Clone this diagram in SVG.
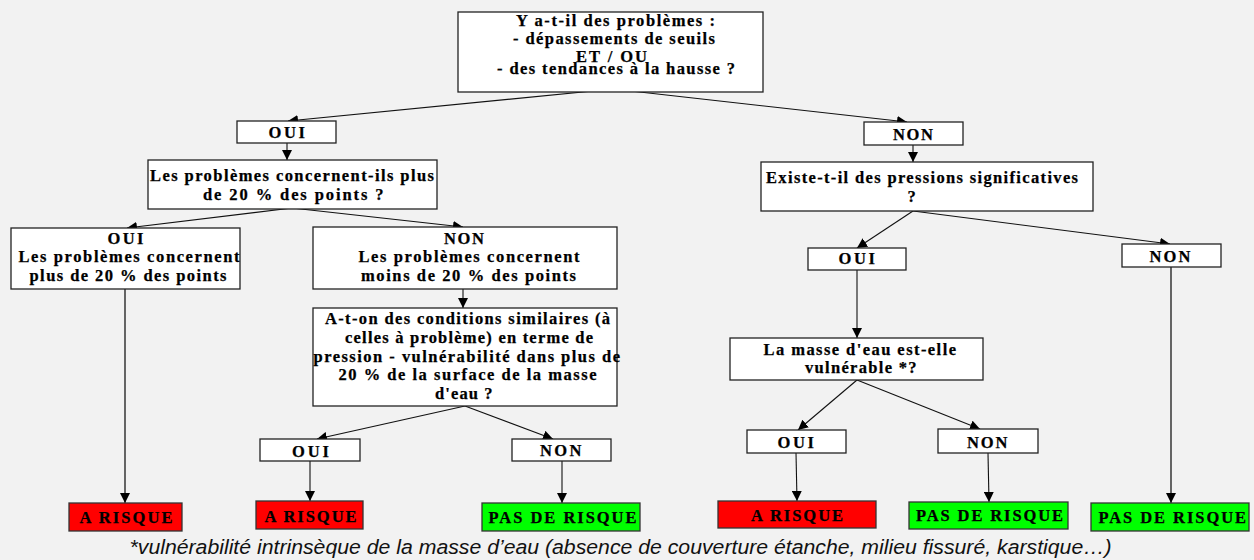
<svg xmlns="http://www.w3.org/2000/svg" width="1254" height="560" viewBox="0 0 1254 560">
<defs>
<marker id="ah" markerUnits="userSpaceOnUse" markerWidth="10" markerHeight="10" refX="10" refY="5" orient="auto">
<path d="M0,0 L10,5 L0,10 z" fill="#000"/>
</marker>
<style>
.box{fill:#fff;stroke:#222;stroke-width:1.3}
.red{fill:#ff0000;stroke:#333;stroke-width:1.3}
.grn{fill:#00ff00;stroke:#333;stroke-width:1.3}
.t{font-family:"Liberation Serif","Times New Roman",serif;font-weight:bold;font-size:16.5px;fill:#000;stroke:#000;stroke-width:0.25}
.c{fill:none;stroke:#111;stroke-width:1.1;marker-end:url(#ah)}
.cg{fill:none;stroke:#555;stroke-width:1.8;marker-end:url(#ah)}
.fn{font-family:"Liberation Sans",Arial,sans-serif;font-style:italic;font-size:19.5px;fill:#111}
</style>
</defs>
<rect width="1254" height="560" fill="#f2f2f2"/>

<g id="connectors">
<path class="c" d="M613,89 L288,121"/>
<path class="c" d="M613,89 L907,122"/>
<path class="c" d="M287,143 L287,160"/>
<path class="c" d="M292,208 L127,228"/>
<path class="c" d="M292,208 L463,227"/>
<path class="c" d="M463,289 L463,308"/>
<path class="c" d="M465,406 L317,439"/>
<path class="c" d="M465,406 L553,439"/>
<path class="cg" d="M125,289 L125,503"/>
<path class="c" d="M310,461 L310,501"/>
<path class="c" d="M562,461 L562,503"/>
<path class="c" d="M913,145 L913,162"/>
<path class="c" d="M913,211 L857,248"/>
<path class="c" d="M913,211 L1170,244"/>
<path class="c" d="M857,270 L857,338"/>
<path class="c" d="M857,380 L798,430"/>
<path class="c" d="M857,380 L980,429"/>
<path class="c" d="M796,453 L797,501"/>
<path class="c" d="M988,453 L989,502"/>
<path class="cg" d="M1171,267 L1171,503"/>
</g>

<g id="n_top">
<rect class="box" x="458" y="12" width="305" height="80"/>
<text class="t" x="516" y="26" textLength="199" lengthAdjust="spacing">Y a-t-il des problèmes :</text>
<text class="t" x="513" y="43.5" textLength="202" lengthAdjust="spacing">- dépassements de seuils</text>
<text class="t" x="576" y="61.5" textLength="71" lengthAdjust="spacing">ET / OU</text>
<text class="t" x="497" y="74" textLength="238" lengthAdjust="spacing">- des tendances à la hausse ?</text>
</g>

<g id="n_oui1">
<rect class="box" x="237" y="121" width="99" height="22"/>
<text class="t" x="268.5" y="138" textLength="36.5" lengthAdjust="spacing">OUI</text>
</g>

<g id="n_q1">
<rect class="box" x="148" y="160" width="289" height="49"/>
<text class="t" x="150" y="181" textLength="284" lengthAdjust="spacing">Les problèmes concernent-ils plus</text>
<text class="t" x="203" y="199.5" textLength="180.5" lengthAdjust="spacing">de 20 % des points ?</text>
</g>

<g id="n_left">
<rect class="box" x="11" y="228" width="229" height="61"/>
<text class="t" x="107.5" y="244" textLength="36" lengthAdjust="spacing">OUI</text>
<text class="t" x="18.5" y="262" textLength="221" lengthAdjust="spacing">Les problèmes concernent</text>
<text class="t" x="29.5" y="281" textLength="197" lengthAdjust="spacing">plus de 20 % des points</text>
</g>

<g id="n_nonmid">
<rect class="box" x="313" y="227" width="304" height="62"/>
<text class="t" x="444" y="243.5" textLength="40" lengthAdjust="spacing">NON</text>
<text class="t" x="358.5" y="262" textLength="221" lengthAdjust="spacing">Les problèmes concernent</text>
<text class="t" x="361" y="281" textLength="215" lengthAdjust="spacing">moins de 20 % des points</text>
</g>

<g id="n_q2">
<rect class="box" x="313" y="308" width="304" height="98"/>
<text class="t" x="325" y="324" textLength="285" lengthAdjust="spacing">A-t-on des conditions similaires (à</text>
<text class="t" x="345" y="342.5" textLength="248" lengthAdjust="spacing">celles à problème) en terme de</text>
<text class="t" x="313.5" y="361.5" textLength="306.5" lengthAdjust="spacing">pression - vulnérabilité dans plus de</text>
<text class="t" x="338.5" y="380" textLength="258" lengthAdjust="spacing">20 % de la surface de la masse</text>
<text class="t" x="435" y="398.5" textLength="57.5" lengthAdjust="spacing">d'eau ?</text>
</g>

<g id="n_oui2">
<rect class="box" x="260" y="439" width="100" height="22"/>
<text class="t" x="292" y="456.5" textLength="37" lengthAdjust="spacing">OUI</text>
</g>

<g id="n_non2">
<rect class="box" x="512" y="439" width="99" height="22"/>
<text class="t" x="540" y="456" textLength="41.5" lengthAdjust="spacing">NON</text>
</g>

<g id="n_ar1">
<rect class="red" x="69" y="503" width="113" height="28"/>
<text class="t" x="79.5" y="523" textLength="93" lengthAdjust="spacing">A RISQUE</text>
</g>

<g id="n_ar2">
<rect class="red" x="256" y="501" width="107" height="28"/>
<text class="t" x="264.5" y="521.5" textLength="92" lengthAdjust="spacing">A RISQUE</text>
</g>

<g id="n_pas1">
<rect class="grn" x="482" y="503" width="158" height="28"/>
<text class="t" x="488.5" y="522.5" textLength="148" lengthAdjust="spacing">PAS DE RISQUE</text>
</g>

<g id="n_nonr">
<rect class="box" x="864" y="122" width="99" height="23"/>
<text class="t" x="893" y="139.5" textLength="40" lengthAdjust="spacing">NON</text>
</g>

<g id="n_existe">
<rect class="box" x="761" y="162" width="332" height="49"/>
<text class="t" x="766" y="182.5" textLength="312" lengthAdjust="spacing">Existe-t-il des pressions significatives</text>
<text class="t" x="907.5" y="201.5">?</text>
</g>

<g id="n_oui3">
<rect class="box" x="808" y="248" width="98" height="22"/>
<text class="t" x="838.5" y="264" textLength="36.5" lengthAdjust="spacing">OUI</text>
</g>

<g id="n_nonfar">
<rect class="box" x="1122" y="244" width="99" height="23"/>
<text class="t" x="1149.5" y="261.5" textLength="41" lengthAdjust="spacing">NON</text>
</g>

<g id="n_vuln">
<rect class="box" x="730" y="338" width="253" height="42"/>
<text class="t" x="763.5" y="354.5" textLength="192.5" lengthAdjust="spacing">La masse d'eau est-elle</text>
<text class="t" x="805" y="372.5" textLength="111.5" lengthAdjust="spacing">vulnérable *?</text>
</g>

<g id="n_oui4">
<rect class="box" x="747" y="430" width="99" height="23"/>
<text class="t" x="777.5" y="447.5" textLength="36.5" lengthAdjust="spacing">OUI</text>
</g>

<g id="n_non4">
<rect class="box" x="938" y="429" width="100" height="24"/>
<text class="t" x="967" y="447.5" textLength="40.5" lengthAdjust="spacing">NON</text>
</g>

<g id="n_ar3">
<rect class="red" x="718" y="501" width="158" height="27"/>
<text class="t" x="751" y="520.5" textLength="92" lengthAdjust="spacing">A RISQUE</text>
</g>

<g id="n_pas2">
<rect class="grn" x="909" y="502" width="159" height="27"/>
<text class="t" x="916" y="520.5" textLength="147" lengthAdjust="spacing">PAS DE RISQUE</text>
</g>

<g id="n_pas3">
<rect class="grn" x="1091" y="503" width="158" height="28"/>
<text class="t" x="1098.5" y="522.5" textLength="147.5" lengthAdjust="spacing">PAS DE RISQUE</text>
</g>

<g id="footnote">
<text class="fn" x="129.5" y="553.5" textLength="982" lengthAdjust="spacingAndGlyphs">*vulnérabilité intrinsèque de la masse d’eau (absence de couverture étanche, milieu fissuré, karstique…)</text>
</g>
</svg>
